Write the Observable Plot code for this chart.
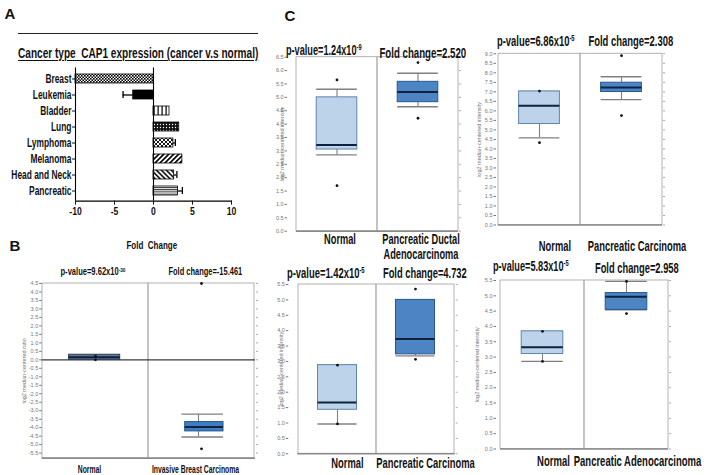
<!DOCTYPE html>
<html><head><meta charset="utf-8">
<script src="https://cdn.jsdelivr.net/npm/d3@7"></script>
<script src="https://cdn.jsdelivr.net/npm/@observablehq/plot@0.6"></script>
<style>
body{margin:0;background:#fff;}
#root{position:relative;width:714px;height:475px;overflow:hidden;background:#fff;}
.t{position:absolute;white-space:nowrap;font-weight:bold;color:#111;
   font-family:"Liberation Sans",Arial,sans-serif;line-height:1;}
.t sup{font-size:0.62em;vertical-align:0.55em;line-height:0;}
.panel{position:absolute;}
</style></head><body>
<div id="root">
<svg width="0" height="0" style="position:absolute">
<defs>
<pattern id="pBreast" width="3" height="3" patternUnits="userSpaceOnUse"><rect width="3" height="3" fill="#fff"/><rect width="1.6" height="1.6" fill="#000"/><rect x="1.5" y="1.5" width="1.6" height="1.6" fill="#000"/></pattern>
<pattern id="pBladder" width="4" height="4" patternUnits="userSpaceOnUse"><rect width="4" height="4" fill="#fff"/><rect x="1.5" width="1.2" height="4" fill="#000"/></pattern>
<pattern id="pLung" width="3" height="3" patternUnits="userSpaceOnUse"><rect width="3" height="3" fill="#111"/><circle cx="1.5" cy="1.5" r="0.7" fill="#fff"/></pattern>
<pattern id="pLymph" width="4" height="4" patternUnits="userSpaceOnUse"><rect width="4" height="4" fill="#fff"/><path d="M0,0L4,4M4,0L0,4" stroke="#000" stroke-width="0.9"/></pattern>
<pattern id="pMel" width="3.5" height="3.5" patternUnits="userSpaceOnUse" patternTransform="rotate(45)"><rect width="3.5" height="3.5" fill="#fff"/><rect width="1.7" height="3.5" fill="#000"/></pattern>
<pattern id="pHN" width="3.5" height="3.5" patternUnits="userSpaceOnUse" patternTransform="rotate(-45)"><rect width="3.5" height="3.5" fill="#fff"/><rect width="1.5" height="3.5" fill="#000"/></pattern>
<pattern id="pPanc" width="4" height="2.2" patternUnits="userSpaceOnUse"><rect width="4" height="2.2" fill="#fff"/><rect width="4" height="1" fill="#333"/></pattern>
</defs>
</svg>
</div>
<script>
// ---------- Panel A data ----------
const cancers = ["Breast","Leukemia","Bladder","Lung","Lymphoma","Melanoma","Head and Neck","Pancreatic"];
const foldChange = [-10, -2.6, 2.05, 3.3, 2.55, 3.7, 2.65, 3.15];
const foldError = [0, 1.3, 0, 0, 0.25, 0, 0.35, 0.55];
const foldTicks = [-10, -5, 0, 5, 10];

// ---------- Panel B data ----------
const bGroups = ["Normal", "Invasive Breast Carcinoma"];
const bLow  = [0.0, -4.55];
const bQ1   = [0.0, -4.22];
const bMed  = [0.15, -3.96];
const bQ3   = [0.3, -3.67];
const bHigh = [0.3, -3.2];
const bOutGroup = ["Normal", "Normal", "Invasive Breast Carcinoma", "Invasive Breast Carcinoma"];
const bOutValue = [0.22, 0.0, 4.5, -5.25];
const bTicks = d3.range(-5.5, 4.5001, 0.5);

// ---------- Panel C1 (Pancreatic Ductal Adenocarcinoma) ----------
const c1Groups = ["Normal", "Pancreatic Ductal\nAdenocarcinoma"];
const c1Low  = [2.85, 4.65];
const c1Q1   = [3.05, 4.82];
const c1Med  = [3.22, 5.2];
const c1Q3   = [5.0, 5.58];
const c1High = [5.3, 5.9];
const c1OutGroup = [c1Groups[0], c1Groups[0], c1Groups[1], c1Groups[1]];
const c1OutValue = [5.65, 1.7, 6.3, 4.22];
const c1Ticks = d3.range(0, 6.5001, 0.5);

// ---------- Panel C2 (Pancreatic Carcinoma, top) ----------
const c2Groups = ["Normal", "Pancreatic Carcinoma"];
const c2Low  = [4.58, 6.59];
const c2Q1   = [5.31, 6.99];
const c2Med  = [6.27, 7.23];
const c2Q3   = [7.02, 7.48];
const c2High = [7.02, 7.79];
const c2OutGroup = [c2Groups[0], c2Groups[0], c2Groups[1], c2Groups[1]];
const c2OutValue = [7.04, 4.33, 8.9, 5.75];
const c2Ticks = d3.range(0, 9.0001, 0.5);

// ---------- Panel C3 (Pancreatic Carcinoma, bottom) ----------
const c3Groups = ["Normal", "Pancreatic Carcinoma"];
const c3Low  = [0.97, 3.18];
const c3Q1   = [1.43, 3.23];
const c3Med  = [1.67, 3.73];
const c3Q3   = [2.88, 5.0];
const c3High = [2.88, 5.0];
const c3OutGroup = [c3Groups[0], c3Groups[0], c3Groups[1], c3Groups[1]];
const c3OutValue = [2.88, 0.97, 5.35, 3.07];
const c3Ticks = d3.range(0, 5.5001, 0.5);

// ---------- Panel C4 (Pancreatic Adenocarcinoma) ----------
const c4Groups = ["Normal", "Pancreatic Adenocarcinoma"];
const c4Low  = [2.86, 4.54];
const c4Q1   = [3.1, 4.54];
const c4Med  = [3.32, 4.97];
const c4Q3   = [3.84, 5.09];
const c4High = [3.84, 5.47];
const c4OutGroup = [c4Groups[0], c4Groups[0], c4Groups[1], c4Groups[1]];
const c4OutValue = [3.84, 2.86, 5.47, 4.42];
const c4Ticks = d3.range(0, 5.5001, 0.5);

// ---------- styles ----------
const BOLD = '"Liberation Sans",Arial,sans-serif';
const SANS = '"Liberation Sans",Arial,sans-serif';
const barFill = {"Breast":"url(#pBreast)","Leukemia":"#000","Bladder":"url(#pBladder)","Lung":"url(#pLung)",
  "Lymphoma":"url(#pLymph)","Melanoma":"url(#pMel)","Head and Neck":"url(#pHN)","Pancreatic":"url(#pPanc)"};
const root = document.getElementById("root");

function place(node, left, top) {
  const d = document.createElement("div");
  d.className = "panel"; d.style.left = left + "px"; d.style.top = top + "px";
  d.appendChild(node); root.appendChild(d);
  return node;
}
// horizontally condense SVG tick labels (the figure uses a narrow bold face)
function squeeze(svg, label, s) {
  svg.querySelectorAll(`g[aria-label="${label}"] text`).forEach(t => {
    const tr = t.getAttribute("transform");
    if (tr) t.setAttribute("transform", tr + ` scale(${s},1)`);
    else {
      const x = +t.getAttribute("x") || 0, y = +t.getAttribute("y") || 0;
      t.removeAttribute("x"); t.removeAttribute("y");
      t.setAttribute("transform", `translate(${x},${y}) scale(${s},1)`);
    }
  });
}
function txt(html, x, y, size, width, extra) {
  const d = document.createElement("div");
  d.className = "t"; d.innerHTML = html;
  d.style.fontSize = size + "px";
  if (extra) Object.assign(d.style, extra);
  root.appendChild(d);
  const w = d.offsetWidth, h = d.offsetHeight;
  const s = width ? width / w : 1;
  d.style.left = (x - w / 2) + "px"; d.style.top = (y - h / 2) + "px";
  d.style.transform = `scaleX(${s})`;
  d.style.transformOrigin = "50% 50%";
}

// ---------- Panel A ----------
const rowsA = cancers.map((c, i) => ({name: c, fc: foldChange[i], end: foldChange[i] + Math.sign(foldChange[i]) * foldError[i], err: foldError[i], fill: barFill[c]}));
const errRows = rowsA.filter(d => d.err > 0);
const svgA = place(Plot.plot({
  width: 270, height: 225, marginLeft: 75, marginRight: 39, marginTop: 67.4, marginBottom: 24.4,
  style: {background: "transparent", overflow: "visible", fontFamily: BOLD, fontWeight: "bold", color: "#111"},
  x: {domain: [-10, 10]},
  y: {domain: cancers, paddingInner: 0.44, paddingOuter: 0.22},
  color: {type: "identity"},
  marks: [
    Plot.barX(rowsA, {x: "fc", y: "name", fill: "fill", stroke: "#000", strokeWidth: 0.8}),
    Plot.ruleY(errRows, {y: "name", x1: "fc", x2: "end", stroke: "#000", strokeWidth: 1.3}),
    Plot.tickX(errRows, {x: "end", y: "name", stroke: "#000", strokeWidth: 1.3, insetTop: 1, insetBottom: 1}),
    Plot.ruleX([0], {stroke: "#000", strokeWidth: 1.1}),
    Plot.ruleX([-10], {stroke: "#000", strokeWidth: 1.1}),
    Plot.frame({anchor: "bottom", stroke: "#000", strokeWidth: 1.1}),
    Plot.axisX({ticks: foldTicks, tickSize: 4, tickPadding: 2, tickFormat: d => String(d), label: null, fontSize: 11.5, fontWeight: "bold"}),
    Plot.axisY({tickSize: 3, tickPadding: 1, label: null, fontSize: 12, fontWeight: "bold"})
  ]
}), 0, 0);
squeeze(svgA, "x-axis tick label", 0.75);
squeeze(svgA, "y-axis tick label", 0.7);

// ---------- Box-plot panels ----------
function boxPanel(cfg) {
  const rows = cfg.groups.map((g, i) => ({g, lo: cfg.low[i], q1: cfg.q1[i], med: cfg.med[i], q3: cfg.q3[i], hi: cfg.high[i], fill: cfg.fills[i], stroke: cfg.strokes[i]}));
  const outs = cfg.outGroup.map((g, i) => ({g, v: cfg.outValue[i]}));
  const W = "#808080";
  const marks = [
    Plot.barY(cfg.groups, {x: d => d, y1: cfg.domain[0], y2: cfg.domain[1], fill: "none", stroke: "#aaaaaa", strokeWidth: 0.9}),
    Plot.ruleY([cfg.domain[0]], {stroke: "#8a8a8a", strokeWidth: 1.6})
  ];
  if (cfg.zeroLine) marks.push(Plot.ruleY([0], {stroke: "#3a3a3a", strokeWidth: 1.2}));
  rows.forEach((r, i) => {
    const [il, ir] = cfg.insets[i];
    const [cl, cr] = cfg.capInsets ? cfg.capInsets[i] : cfg.insets[i];
    const one = [r];
    const wdx = cfg.whiskerDx ? cfg.whiskerDx[i] : 0;
    if (r.hi > r.q3) marks.push(Plot.ruleX(one, {x: "g", y1: "q3", y2: "hi", stroke: W, strokeWidth: 1.1, dx: wdx}));
    if (r.lo < r.q1) marks.push(Plot.ruleX(one, {x: "g", y1: "lo", y2: "q1", stroke: W, strokeWidth: 1.1, dx: wdx}));
    if (!cfg.noCaps || !cfg.noCaps[i]) marks.push(
      Plot.tickY(one, {x: "g", y: "hi", stroke: W, strokeWidth: 1.4, insetLeft: cl, insetRight: cr}),
      Plot.tickY(one, {x: "g", y: "lo", stroke: W, strokeWidth: 1.4, insetLeft: cl, insetRight: cr})
    );
    marks.push(
      Plot.barY(one, {x: "g", y1: "q1", y2: "q3", fill: "fill", stroke: "stroke", strokeWidth: 1, insetLeft: il, insetRight: ir}),
      Plot.tickY(one, {x: "g", y: "med", stroke: "#0e2240", strokeWidth: 2, insetLeft: il, insetRight: ir})
    );
  });
  marks.push(Plot.dot(outs, {x: "g", y: "v", r: 1.4, fill: "#111", stroke: "none"}));
  marks.push(
    Plot.axisY({ticks: cfg.ticks, tickFormat: d => d.toFixed(1), tickSize: 2.5, tickPadding: 1.5, fontSize: 5.5, fontFamily: SANS, fontWeight: "normal",
      color: "#777", dx: cfg.axisDx, label: cfg.ylabel, labelAnchor: "center", labelOffset: cfg.labelOffset, labelArrow: "none"}),
    Plot.axisY({anchor: "right", ticks: cfg.ticks, tickSize: 2, tickFormat: () => "", label: null, color: "#aaa"}),
    Plot.axisX({tickSize: 0, tickPadding: cfg.xPad, label: null, fontSize: cfg.xFont, fontWeight: "bold", fontFamily: BOLD,
      color: "#111", dx: cfg.xDx, lineHeight: 1.07})
  );
  const svg = place(Plot.plot({
    width: cfg.width, height: cfg.height, marginLeft: cfg.ml, marginRight: cfg.mr, marginTop: cfg.mt, marginBottom: cfg.mb,
    style: {background: "transparent", overflow: "visible", fontFamily: SANS},
    x: {domain: cfg.groups, padding: 0, label: null},
    y: {domain: cfg.domain, label: null},
    color: {type: "identity"},
    marks
  }), cfg.left, cfg.top);
  squeeze(svg, "x-axis tick label", cfg.xScale);
}

const NF = "#bdd3ea", NS = "#5f84b0", TF = "#4d84c4", TS = "#2a578e";

// Panel B
boxPanel({groups: bGroups, low: bLow, q1: bQ1, med: bMed, q3: bQ3, high: bHigh, outGroup: bOutGroup, outValue: bOutValue,
  fills: ["#5f7393", "#3f7dc2"], strokes: ["#2d3d55", "#24558f"], domain: [-5.8, 4.5], ticks: bTicks, zeroLine: true,
  insets: [[26.6, 28.3], [36.7, 31]], capInsets: [[26.6, 28.3], [33.4, 31]], noCaps: [true, false], whiskerDx: [0, -3],
  ylabel: "log2 median-centered ratio", axisDx: 0, labelOffset: 20,
  xPad: 6.5, xFont: 10.5, xScale: 0.65, xDx: -6,
  left: 0, top: 262, width: 270, height: 213, ml: 41.7, mr: 15, mt: 21, mb: 17.3});

// Panel C1
boxPanel({groups: c1Groups, low: c1Low, q1: c1Q1, med: c1Med, q3: c1Q3, high: c1High, outGroup: c1OutGroup, outValue: c1OutValue,
  fills: [NF, TF], strokes: [NS, TS], domain: [0, 6.5], ticks: c1Ticks,
  insets: [[20.2, 20.2], [20.2, 20.2]], ylabel: "log2 median-centered intensity", axisDx: -9, labelOffset: 16,
  xPad: 2, xFont: 14, xScale: 0.66, xDx: 3,
  left: 270, top: 40, width: 200, height: 190.7, ml: 26, mr: 12, mt: 16.7, mb: 0});

// Panel C2
boxPanel({groups: c2Groups, low: c2Low, q1: c2Q1, med: c2Med, q3: c2Q3, high: c2High, outGroup: c2OutGroup, outValue: c2OutValue,
  fills: [NF, TF], strokes: [NS, TS], domain: [0, 9], ticks: c2Ticks,
  insets: [[20.6, 20.6], [20.6, 20.6]], ylabel: "log2 median-centered intensity", axisDx: -1.7, labelOffset: 21,
  xPad: 15, xFont: 14, xScale: 0.67, xDx: 15.5,
  left: 470, top: 40, width: 200, height: 184.5, ml: 27.7, mr: 8, mt: 13.3, mb: 0});

// Panel C3
boxPanel({groups: c3Groups, low: c3Low, q1: c3Q1, med: c3Med, q3: c3Q3, high: c3High, outGroup: c3OutGroup, outValue: c3OutValue,
  fills: [NF, TF], strokes: [NS, TS], domain: [0, 5.5], ticks: c3Ticks,
  insets: [[19.5, 19.5], [19.5, 19.5]], ylabel: "log2 median-centered intensity", axisDx: -9, labelOffset: 19,
  xPad: 4, xFont: 14, xScale: 0.67, xDx: 10,
  left: 270, top: 270, width: 200, height: 183.3, ml: 27.3, mr: 15.3, mt: 14, mb: 0});

// Panel C4
boxPanel({groups: c4Groups, low: c4Low, q1: c4Q1, med: c4Med, q3: c4Q3, high: c4High, outGroup: c4OutGroup, outValue: c4OutValue,
  fills: [NF, TF], strokes: [NS, TS], domain: [0, 5.5], ticks: c4Ticks,
  insets: [[21.2, 21.2], [21.2, 21.2]], ylabel: "log2 median-centered intensity", axisDx: -4, labelOffset: 25,
  xPad: 6.5, xFont: 14, xScale: 0.68, xDx: 11,
  left: 470, top: 265, width: 200, height: 183.5, ml: 30, mr: 2, mt: 15, mb: 0});

// ---------- Text annotations ----------
txt("A", 10, 13, 15);
const rule = document.createElement("div");
Object.assign(rule.style, {position: "absolute", left: "18px", top: "33px", width: "240px", borderTop: "1.5px solid #222"});
root.appendChild(rule);
txt("Cancer type&nbsp; CAP1 expression (cancer v.s normal)", 138, 53, 14, 240, {textDecoration: "underline", textUnderlineOffset: "2px"});
txt("B", 15, 245, 15);
txt("Fold&nbsp; Change", 152, 245, 11, 51);
txt("p-value=9.62x10<sup>-30</sup>", 93, 272, 10, 65);
txt("Fold change=-15.461", 205, 272, 10, 74);
txt("C", 290, 15, 15);
txt("p-value=1.24x10<sup>-9</sup>", 324, 50, 14, 76);
txt("Fold change=2.520", 423, 53, 14, 87);
txt("p-value=6.86x10<sup>-5</sup>", 536, 41, 14, 78);
txt("Fold change=2.308", 631, 41, 14, 85);
txt("p-value=1.42x10<sup>-5</sup>", 326, 273, 14, 78);
txt("Fold change=4.732", 425, 273, 14, 84);
txt("p-value=5.83x10<sup>-5</sup>", 531, 266, 14, 76);
txt("Fold change=2.958", 637, 268, 14, 84);
</script>
</body></html>
